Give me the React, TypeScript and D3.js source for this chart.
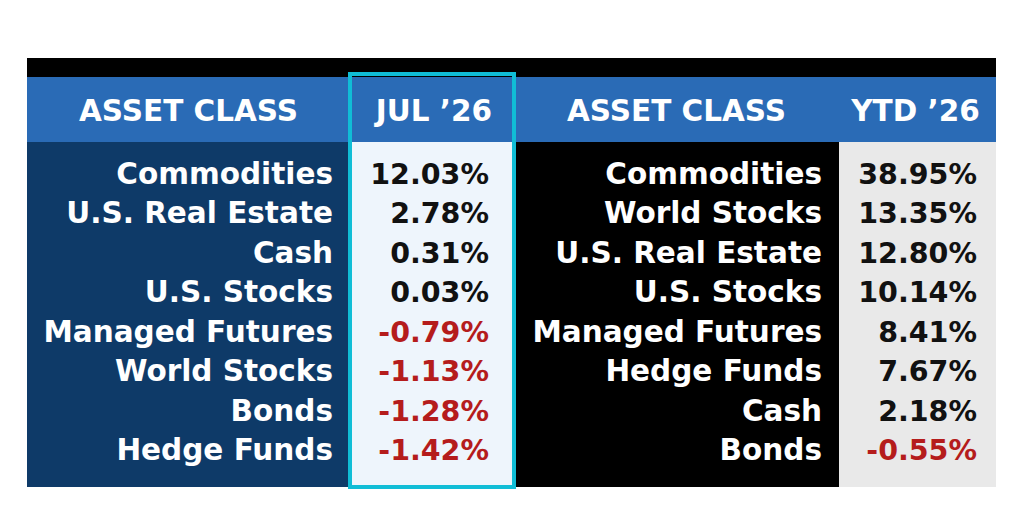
import * as d3 from "d3";

// monthly ranking
const julAssets = [
  "Commodities",
  "U.S. Real Estate",
  "Cash",
  "U.S. Stocks",
  "Managed Futures",
  "World Stocks",
  "Bonds",
  "Hedge Funds",
];
const julReturns = [12.03, 2.78, 0.31, 0.03, -0.79, -1.13, -1.28, -1.42];

// year to date ranking
const ytdAssets = [
  "Commodities",
  "World Stocks",
  "U.S. Real Estate",
  "U.S. Stocks",
  "Managed Futures",
  "Hedge Funds",
  "Cash",
  "Bonds",
];
const ytdReturns = [38.95, 13.35, 12.8, 10.14, 8.41, 7.67, 2.18, -0.55];

const headers = ["ASSET CLASS", "JUL \u201926", "ASSET CLASS", "YTD \u201926"];

const width = 1024;
const height = 514;
const top = 58;
const headerTop = 77;
const bodyTop = 142;
const bottom = 487;
const edges = [27, 350, 514, 839, 996];
const font = "'DejaVu Sans', sans-serif";

const colBg = ["#0e3a68", "#eef5fc", "#000000", "#e9e9e9"];

// plain hyphen for negatives, like the source table
const fmt = (v: number) => `${d3.format(".2f")(v).replace("\u2212", "-")}%`;

export default function App() {
  const rowIdx = d3.range(julAssets.length).map(String);
  const y = d3
    .scaleBand()
    .domain(rowIdx)
    .range([bodyTop + 12, bodyTop + 12 + 39.5 * julAssets.length]);
  const baseline = (i: number) => (y(String(i)) as number) + y.bandwidth() / 2 + 10;

  const labelX = (c: number) => edges[c + 1] - 17;
  const valueX = (c: number) => edges[c + 1] - 19;

  const valueColor = (v: number) => (v < 0 ? "#b51c1c" : "#111111");

  return (
    <svg
      width={width}
      height={height}
      style={{ position: "absolute", left: 0, top: 0, background: "#fff" }}
    >
      <rect x={edges[0]} y={top} width={edges[4] - edges[0]} height={headerTop - top} fill="#000" />
      <rect
        x={edges[0]}
        y={headerTop}
        width={edges[4] - edges[0]}
        height={bodyTop - headerTop}
        fill="#2a6bb6"
      />
      {colBg.map((c, i) => (
        <rect
          key={i}
          x={edges[i]}
          y={bodyTop}
          width={edges[i + 1] - edges[i]}
          height={bottom - bodyTop}
          fill={c}
        />
      ))}
      {headers.map((h, i) => (
        <text
          key={i}
          x={(edges[i] + edges[i + 1]) / 2 + (i === 3 ? -2 : i === 1 ? 2 : 0)}
          y={121}
          textAnchor="middle"
          fill="#fff"
          fontFamily={font}
          fontWeight="bold"
          fontSize={29.5}
        >
          {h}
        </text>
      ))}
      <g fontFamily={font} fontWeight="bold">
        {julAssets.map((a, i) => (
          <text
            key={"ja" + i}
            x={labelX(0)}
            y={baseline(i)}
            textAnchor="end"
            fill="#fff"
            fontSize={29.5}
          >
            {a}
          </text>
        ))}
        {julReturns.map((v, i) => (
          <text
            key={"jv" + i}
            x={valueX(1) - 6}
            y={baseline(i)}
            textAnchor="end"
            fill={valueColor(v)}
            fontSize={28.5}
          >
            {fmt(v)}
          </text>
        ))}
        {ytdAssets.map((a, i) => (
          <text
            key={"ya" + i}
            x={labelX(2)}
            y={baseline(i)}
            textAnchor="end"
            fill="#fff"
            fontSize={29.5}
          >
            {a}
          </text>
        ))}
        {ytdReturns.map((v, i) => (
          <text
            key={"yv" + i}
            x={valueX(3)}
            y={baseline(i)}
            textAnchor="end"
            fill={valueColor(v)}
            fontSize={28.5}
          >
            {fmt(v)}
          </text>
        ))}
      </g>
      <rect
        x={edges[1]}
        y={74}
        width={edges[2] - edges[1]}
        height={bottom - 74}
        fill="none"
        stroke="#10bdd6"
        strokeWidth={4}
      />
    </svg>
  );
}
